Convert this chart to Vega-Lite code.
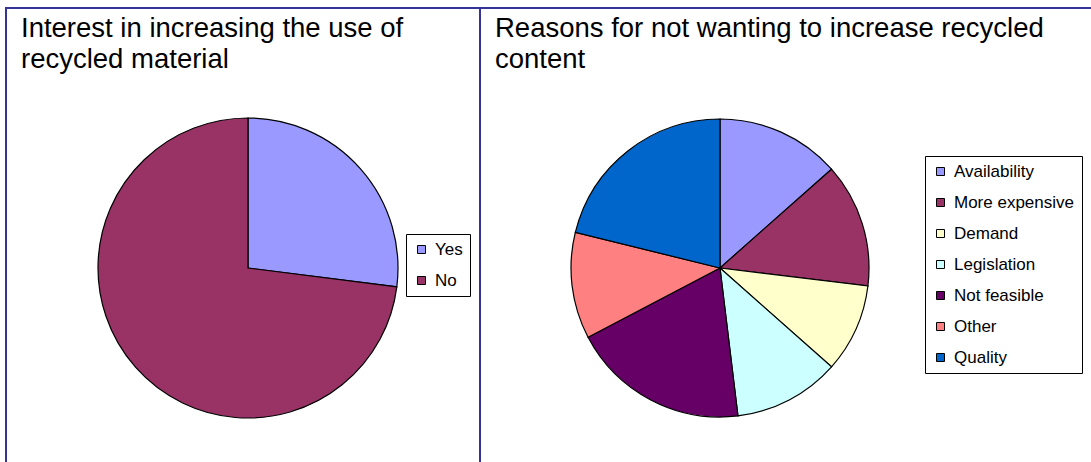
{
  "$schema": "https://vega.github.io/schema/vega-lite/v6.json",
  "padding": {"left": 5, "top": 7, "right": 0, "bottom": 0},
  "spacing": 0,
  "bounds": "flush",
  "resolve": {"scale": {"color": "independent"}, "legend": {"color": "independent"}},
  "config": {
    "font": "Liberation Sans",
    "view": {"stroke": null},
    "title": {"font": "Liberation Sans", "fontSize": 27.5, "fontWeight": "normal", "color": "#000000", "anchor": "start", "frame": "group", "baseline": "top", "lineHeight": 31, "offset": -66, "dx": 15},
    "legend": {
      "labelFont": "Liberation Sans", "labelFontSize": 17, "labelColor": "#000000",
      "symbolType": "square", "symbolSize": 64, "symbolStrokeColor": "#000000", "symbolStrokeWidth": 1,
      "strokeColor": "#000000", "padding": 7, "rowPadding": 13, "fillColor": "#ffffff", "cornerRadius": 0,
      "symbolOpacity": 1, "labelOffset": 5
    }
  },
  "hconcat": [
    {
      "width": 474,
      "height": 520,
      "title": {"text": ["Interest in increasing the use of", "recycled material"]},
      "layer": [
        {
          "data": {"values": [{"frame": 1}]},
          "mark": {"type": "rect", "fill": null, "stroke": "#333399", "strokeWidth": 2},
          "encoding": {}
        },
        {
          "data": {"values": [
            {"answer": "Yes", "count": 27, "rank": 1},
            {"answer": "No", "count": 73, "rank": 2}
          ]},
          "mark": {"type": "arc", "radius": 150, "stroke": "#000000", "strokeWidth": 1.2, "x": 242, "y": 260},
          "encoding": {
            "theta": {"field": "count", "type": "quantitative", "stack": true},
            "order": {"field": "rank", "type": "quantitative"},
            "color": {
              "field": "answer", "type": "nominal", "title": null,
              "scale": {"domain": ["Yes", "No"], "range": ["#9999FF", "#993366"]},
              "legend": {"orient": "none", "legendX": 400, "legendY": 226}
            }
          }
        }
      ]
    },
    {
      "width": 620,
      "height": 520,
      "title": {"text": ["Reasons for not wanting to increase recycled", "content"]},
      "layer": [
        {
          "data": {"values": [{"frame": 1}]},
          "mark": {"type": "rect", "fill": null, "stroke": "#333399", "strokeWidth": 2},
          "encoding": {}
        },
        {
          "data": {"values": [
            {"reason": "Availability", "count": 7, "rank": 1},
            {"reason": "More expensive", "count": 7, "rank": 2},
            {"reason": "Demand", "count": 5, "rank": 3},
            {"reason": "Legislation", "count": 6, "rank": 4},
            {"reason": "Not feasible", "count": 10, "rank": 5},
            {"reason": "Other", "count": 6, "rank": 6},
            {"reason": "Quality", "count": 11, "rank": 7}
          ]},
          "mark": {"type": "arc", "radius": 149, "stroke": "#000000", "strokeWidth": 1.2, "x": 240, "y": 260},
          "encoding": {
            "theta": {"field": "count", "type": "quantitative", "stack": true},
            "order": {"field": "rank", "type": "quantitative"},
            "color": {
              "field": "reason", "type": "nominal", "title": null,
              "scale": {"domain": ["Availability", "More expensive", "Demand", "Legislation", "Not feasible", "Other", "Quality"], "range": ["#9999FF", "#993366", "#FFFFCC", "#CCFFFF", "#660066", "#FF8080", "#0066CC"]},
              "legend": {"orient": "none", "legendX": 445, "legendY": 148}
            }
          }
        }
      ]
    }
  ]
}
